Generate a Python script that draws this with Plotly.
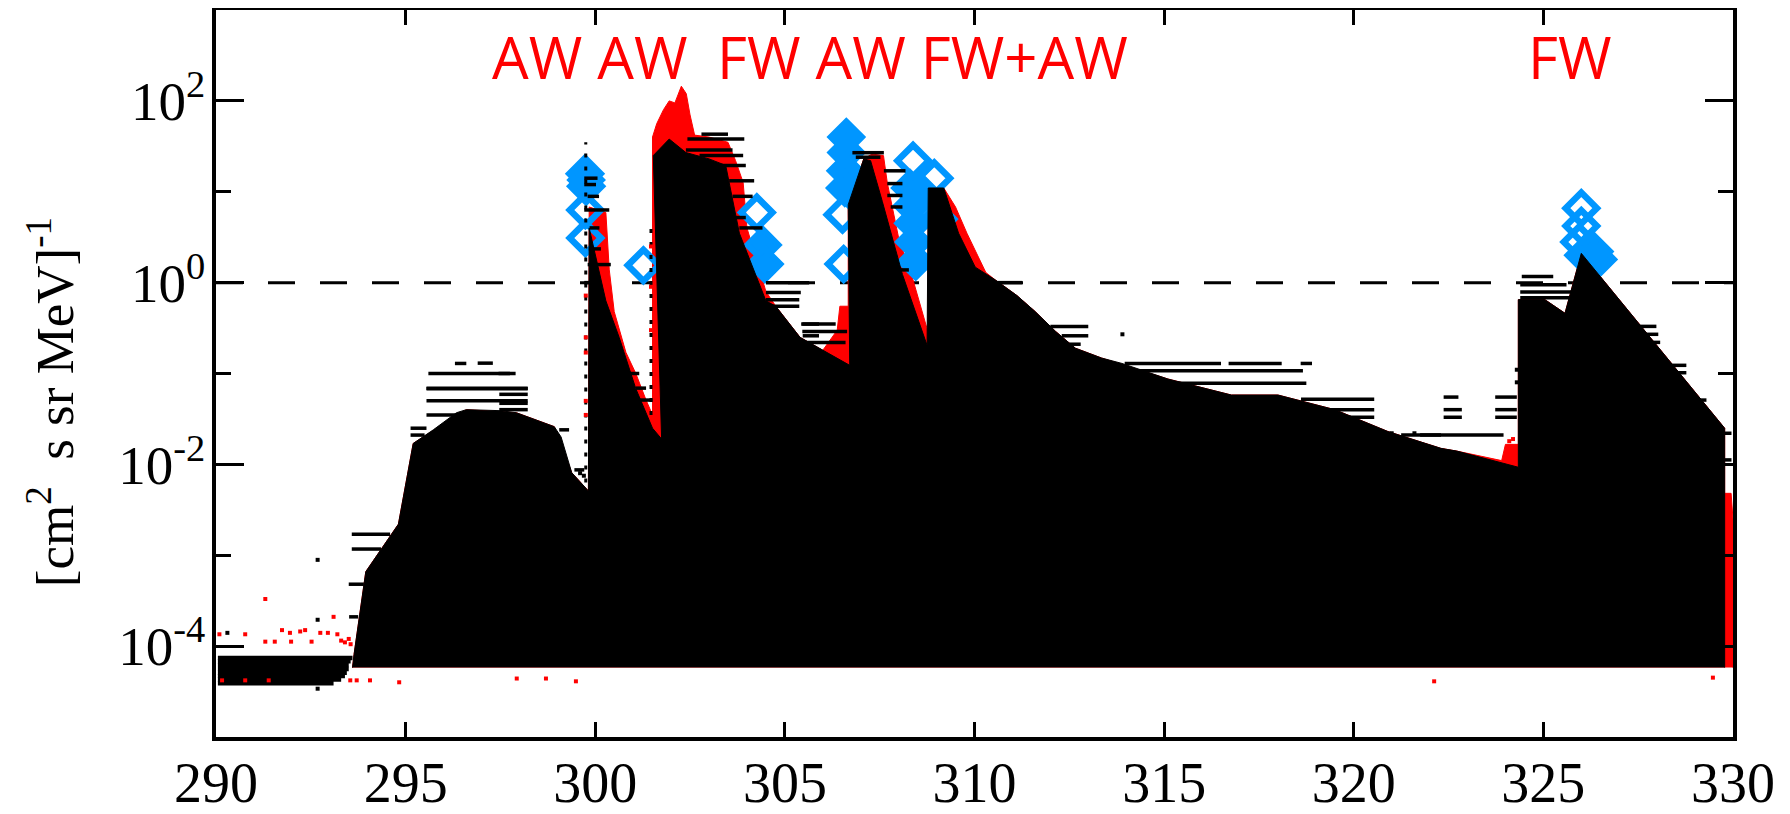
import plotly.graph_objects as go

BASE = 5.8e-5

# main black filled curve (closed at baseline)
black_x = [293.60, 293.64, 293.95, 294.81, 295.20, 295.73, 296.34, 296.60, 297.50, 297.92,
           298.92, 299.10, 299.38, 299.58, 299.82, 299.84, 300.28, 300.63, 301.07, 301.51,
           301.75, 301.53, 301.95, 302.39, 303.00, 303.44, 303.80, 304.50, 304.76, 305.40,
           306.00, 306.71, 306.67, 307.08, 307.26, 307.57, 308.10, 308.75, 308.78, 309.19,
           309.58, 310.02, 310.55, 311.12, 311.60, 312.14, 312.66, 313.35, 313.89, 315.10,
           316.77, 318.00, 319.50, 320.90, 322.30, 322.72, 324.34, 324.34, 325.04, 325.57,
           326.00, 329.78, 329.78]
black_y = [BASE, 8.1e-5, 6.6e-4, 2.2e-3, 1.7e-2, 2.4e-2, 3.7e-2, 4.0e-2, 3.9e-2, 3.7e-2,
           2.6e-2, 2.0e-2, 8.1e-3, 6.5e-3, 5.1e-3, 4.0, 0.63, 0.25, 6.8e-2, 2.5e-2,
           1.9e-2, 25, 38, 27, 23, 19.5, 3.5, 0.63, 0.55, 0.25,
           0.18, 0.123, 7.2, 23, 22, 7.8, 1.23, 0.204, 11, 11,
           3.5, 1.48, 1.07, 0.72, 0.48, 0.29, 0.19, 0.148, 0.129, 8.7e-2,
           5.8e-2, 5.8e-2, 4.0e-2, 2.3e-2, 1.5e-2, 1.4e-2, 9.3e-3, 0.65, 0.65, 0.46,
           2.1, 2.5e-2, BASE]

# red filled curve (drawn beneath black)
red_x = [293.60, 293.64, 293.95, 294.81, 295.20, 296.60, 297.92, 298.92, 299.38, 299.82,
         299.84, 300.28, 300.37, 300.50, 300.81, 301.07, 301.34, 301.51, 301.51, 301.62,
         301.80, 301.95, 302.10, 302.27, 302.40, 302.50, 302.62, 303.00, 303.50, 303.70,
         303.90, 304.00, 304.50, 304.76, 305.40, 306.00, 306.38, 306.45, 306.67, 306.67,
         307.08, 307.30, 307.60, 307.70, 308.00, 308.38, 308.77, 308.78, 309.19, 309.50,
         309.80, 310.30, 310.55, 311.12, 311.60, 312.14, 312.66, 313.35, 315.10, 316.77,
         318.00, 319.50, 320.90, 322.30, 322.72, 323.90, 324.00, 324.34, 324.34, 325.04,
         325.57, 326.00, 329.78, 329.78, 329.95, 330.00, 330.00]
red_y = [BASE, 8.1e-5, 6.6e-4, 2.2e-3, 1.7e-2, 4.0e-2, 3.7e-2, 2.6e-2, 8.1e-3, 5.1e-3,
         6.8, 5.9, 1.38, 0.48, 0.17, 0.10, 5.1e-2, 3.5e-2, 40, 56,
         80, 100, 95, 145, 120, 70, 42, 40, 35, 22,
         12.6, 4.0, 0.8, 0.55, 0.25, 0.18, 0.3, 0.55, 0.55, 7.2,
         23, 26, 25, 12.6, 3.1, 1.07, 0.29, 11, 11, 6.8,
         3.5, 1.29, 1.07, 0.72, 0.48, 0.29, 0.19, 0.148, 8.7e-2, 5.8e-2,
         5.8e-2, 4.0e-2, 2.3e-2, 1.5e-2, 1.4e-2, 1.1e-2, 1.66e-2, 1.66e-2, 0.65, 0.65,
         0.46, 2.1, 2.5e-2, 4.8e-3, 4.8e-3, 2.5e-3, BASE]

# blue open diamonds (isolated points)
blue_x = [299.73, 299.76, 299.74, 299.74, 301.27, 304.26, 306.52, 306.55,
          308.38, 308.94, 309.05, 326.00, 326.00, 325.95]
blue_y = [15.8, 11.5, 6.3, 3.1, 1.55, 5.9, 5.6, 1.6,
          21.9, 14.1, 5.0, 6.6, 4.2, 2.8]

# blue overlapping diamonds forming solid blobs
blob_x = [299.76, 304.42, 304.47, 306.62, 306.62, 306.60, 306.58,
          308.30, 308.35, 308.38, 308.40, 308.45, 308.60, 326.05, 326.35, 326.45]
blob_y = [13.5, 2.6, 1.6, 40, 27, 17, 11,
          11, 7.0, 4.5, 2.8, 1.7, 10, 2.0, 2.2, 1.8]

# black horizontal segments: start x, end x, value
seg_x0 = [295.55, 295.60, 295.55, 295.55, 295.55, 296.30, 296.90, 297.45, 297.47, 297.47, 297.47,
          295.13, 295.13, 293.58, 293.58, 293.50, 293.51, 299.05, 299.45,
          299.71, 299.71, 299.80, 299.71, 299.85, 299.83, 299.80, 299.71,
          300.80, 301.07, 301.16,
          302.43, 302.80, 302.39, 302.75, 303.10, 303.53, 303.62, 303.70, 303.80,
          304.50, 304.50, 304.50, 304.50, 305.43, 305.47,
          305.46, 305.46, 305.46, 306.78, 306.87, 307.61, 307.70, 307.70, 307.79, 307.83,
          310.55, 312.00, 312.30, 312.50,
          313.96, 316.70, 318.60, 314.14, 315.02, 318.61, 318.70, 318.70, 321.25,
          321.75, 322.37, 322.37, 322.37, 323.73, 323.73, 323.73,
          324.43, 324.39, 324.39, 324.39, 327.37, 327.46, 327.55, 328.25, 328.42, 328.60,
          328.95, 329.78, 329.78]
seg_x1 = [298.22, 297.90, 298.22, 298.22, 297.70, 296.60, 297.30, 297.75, 298.22, 298.22, 298.22,
          295.55, 295.50, 294.59, 294.35, 293.90, 293.75, 299.31, 299.71,
          300.06, 300.02, 300.10, 300.37, 300.11, 300.15, 300.41, 300.02,
          301.16, 301.34, 301.51,
          303.93, 303.50, 303.62, 303.90, 303.97, 304.19, 304.15, 303.97, 304.41,
          305.64, 305.42, 305.38, 305.38, 305.90, 305.90,
          306.34, 306.64, 306.60, 307.61, 307.52, 308.18, 308.10, 308.10, 308.10, 308.27,
          311.26, 313.00, 313.00, 312.80,
          316.50, 318.10, 318.90, 318.66, 318.75, 320.54, 320.54, 320.54, 322.30,
          323.95, 322.76, 322.85, 322.85, 324.30, 324.30, 324.30,
          325.26, 325.61, 325.78, 325.70, 327.98, 328.03, 328.08, 328.77, 328.77, 328.77,
          329.30, 329.96, 329.96]
seg_y = [6.8e-2, 0.10, 6.9e-2, 5.0e-2, 3.5e-2, 0.129, 0.13, 0.10, 5.9e-2, 4.7e-2, 4.0e-2,
         2.5e-2, 2.1e-2, 1.7e-3, 1.17e-3, 4.8e-4, 2.1e-4, 2.4e-2, 8.7e-3,
         14.1, 12.0, 8.9, 6.3, 4.0, 2.35, 1.58, 1.0,
         0.10, 6.9e-2, 5.1e-2,
         38, 43, 28.8, 25, 19.5, 13.2, 8.9, 5.2, 4.0,
         1.0, 0.78, 0.65, 0.55, 0.35, 0.26,
         0.35, 0.29, 0.22, 26.9, 24, 17.0, 12.3, 9.1, 6.8, 1.38,
         1.0, 0.33, 0.26, 0.21,
         0.129, 0.129, 0.129, 0.107, 7.8e-2, 5.2e-2, 4.0e-2, 3.3e-2, 2.1e-2,
         2.1e-2, 5.5e-2, 4.0e-2, 3.3e-2, 5.5e-2, 4.0e-2, 3.3e-2,
         1.17, 0.95, 0.79, 0.68, 0.33, 0.27, 0.22, 0.123, 0.102, 7.6e-2,
         5.1e-2, 2.2e-2, 1.12e-2]

# dense black band of low points at the left
band_x0 = [290.05, 290.05, 290.05, 290.05, 290.05, 290.05, 290.05, 290.05]
band_x1 = [293.60, 293.55, 293.50, 293.50, 293.45, 293.40, 293.30, 293.10]
band_y = [7.4e-5, 6.8e-5, 6.2e-5, 5.6e-5, 5.1e-5, 4.7e-5, 4.3e-5, 3.9e-5]

# vertical dotted error lines: x, low, high
vline_x = [299.75, 301.47]
vline_lo = [6.3e-3, 3.5e-2]
vline_hi = [35, 4.6]

# scattered red points
red_px = [290.09, 290.77, 291.30, 291.30, 291.55, 291.74, 291.95, 291.98, 292.22, 292.35,
          292.52, 292.75, 292.95, 293.10, 293.20, 293.30, 293.40, 293.50, 293.55,
          290.16, 290.77, 291.39, 293.54, 293.71, 294.06, 294.83, 297.93, 298.70, 299.49,
          322.12, 329.47, 299.75, 299.75, 299.75, 299.75, 299.75, 301.47, 301.47, 301.47,
          324.10, 324.20]
red_py = [1.35e-4, 1.35e-4, 3.3e-4, 1.12e-4, 1.12e-4, 1.5e-4, 1.4e-4, 1.12e-4, 1.45e-4, 1.5e-4,
          1.12e-4, 1.4e-4, 1.4e-4, 2.1e-4, 1.35e-4, 1.15e-4, 1.1e-4, 1.2e-4, 1.05e-4,
          4.2e-5, 4.2e-5, 4.2e-5, 4.2e-5, 4.2e-5, 4.2e-5, 4.0e-5, 4.4e-5, 4.4e-5, 4.1e-5,
          4.1e-5, 4.5e-5, 0.72, 0.25, 0.17, 5.0e-2, 3.5e-2, 2.5, 0.9, 0.3,
          1.8e-2, 1.9e-2]

# scattered black points
blk_px = [292.68, 292.68, 292.68, 290.30, 299.60, 299.70, 313.90, 321.00, 321.60, 324.30, 324.30]
blk_py = [8.9e-4, 1.95e-4, 3.4e-5, 1.4e-4, 8.0e-3, 7.5e-3, 0.27, 2.2e-2, 2.2e-2, 0.11, 8.0e-2]

x_ticks = [290, 295, 300, 305, 310, 315, 320, 325, 330]
y_ticks = [1e-4, 1e-2, 1, 1e2]
y_ticktext = ['10<sup>-4</sup>', '10<sup>-2</sup>', '10<sup>0</sup>', '10<sup>2</sup>']
y_minor = [1e-3, 1e-1, 1e1]

labels = ['AW AW', 'FW AW FW+AW', 'FW']
label_x = [299.87, 308.62, 325.69]
y_title = '[cm<sup>2</sup>  s sr MeV]<sup>-1</sup>'

RED = '#ff0000'
BLUE = '#0096ff'

fig = go.Figure()

# dashed reference line at unity
fig.add_trace(go.Scatter(x=[290, 330], y=[1, 1], mode='lines',
                         line=dict(color='black', width=3, dash='27px,25px'),
                         hoverinfo='skip'))

fig.add_trace(go.Scatter(x=red_x, y=red_y, mode='lines', fill='toself',
                         fillcolor=RED, line=dict(color=RED, width=1)))

fig.add_trace(go.Scatter(x=blob_x, y=blob_y, mode='markers',
                         marker=dict(symbol='diamond', size=24, color=BLUE,
                                     line=dict(width=6, color=BLUE))))
fig.add_trace(go.Scatter(x=blue_x, y=blue_y, mode='markers',
                         marker=dict(symbol='diamond-open', size=24, color=BLUE,
                                     line=dict(width=6.5, color=BLUE))))

fig.add_trace(go.Scatter(x=black_x, y=black_y, mode='lines', fill='toself',
                         fillcolor='black', line=dict(color='black', width=1)))

sx, sy = [], []
for a, b, v in zip(seg_x0, seg_x1, seg_y):
    sx += [a, b, None]
    sy += [v, v, None]
fig.add_trace(go.Scatter(x=sx, y=sy, mode='lines', line=dict(color='black', width=3.5)))

bx, by = [], []
for a, b, v in zip(band_x0, band_x1, band_y):
    bx += [a, b, None]
    by += [v, v, None]
fig.add_trace(go.Scatter(x=bx, y=by, mode='lines', line=dict(color='black', width=4.5)))

vx, vy = [], []
for xv, lo, hi in zip(vline_x, vline_lo, vline_hi):
    vx += [xv, xv, None]
    vy += [lo, hi, None]
fig.add_trace(go.Scatter(x=vx, y=vy, mode='lines',
                         line=dict(color='black', width=3, dash='4px,9px')))

fig.add_trace(go.Scatter(x=red_px, y=red_py, mode='markers',
                         marker=dict(symbol='square', size=4, color=RED, line=dict(width=0))))
fig.add_trace(go.Scatter(x=blk_px, y=blk_py, mode='markers',
                         marker=dict(symbol='square', size=4, color='black', line=dict(width=0))))

for t, xv in zip(labels, label_x):
    fig.add_annotation(x=xv, xref='x', y=0.936, yref='paper', text=t, showarrow=False,
                       xanchor='center', yanchor='middle',
                       font=dict(family='Open Sans, Roboto, Liberation Sans', size=58, color=RED))

# rotated y-axis title
fig.add_annotation(x=-0.109, xref='paper', y=0.46, yref='paper', text=y_title,
                   showarrow=False, textangle=-90, xanchor='center', yanchor='middle',
                   font=dict(family='Liberation Serif, Times New Roman, serif',
                             size=53, color='black'))

tick_font = dict(family='Liberation Serif, Times New Roman, serif', size=56, color='black')
ytick_font = dict(family='Liberation Serif, Times New Roman, serif', size=55, color='black')

fig.update_layout(
    width=1790, height=814,
    margin=dict(l=208, r=65, t=2, b=85, autoexpand=False),
    paper_bgcolor='white', plot_bgcolor='white',
    showlegend=False,
    xaxis=dict(range=[290, 330], tickvals=x_ticks, ticks='inside', ticklen=15,
               tickwidth=3, tickcolor='black', mirror='allticks', showline=True,
               linewidth=3.5, linecolor='black', showgrid=False, zeroline=False,
               tickfont=tick_font, ticklabelstandoff=-6, automargin=False),
    yaxis=dict(type='log', range=[-5, 3], tickvals=y_ticks, ticktext=y_ticktext,
               ticks='inside', ticklen=28, tickwidth=3, tickcolor='black',
               mirror='allticks', showline=True, linewidth=3.5, linecolor='black',
               showgrid=False, zeroline=False, tickfont=ytick_font, ticklabelstandoff=-4,
               automargin=False,
               minor=dict(tickvals=y_minor, ticks='inside', ticklen=15, tickwidth=3,
                          tickcolor='black', showgrid=False)),
)

fig.write_html('out.html')
